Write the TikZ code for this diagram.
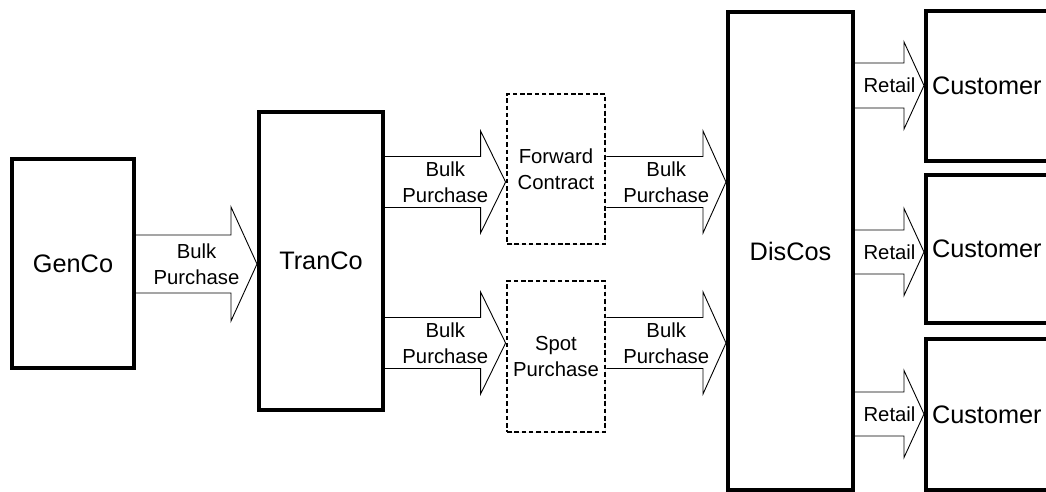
\documentclass[tikz,border=0pt]{standalone}
\usepackage{fontspec}
\setmainfont{Liberation Sans}
\usetikzlibrary{calc,shadows}
\newcommand\fatarrow[5]{%
  \draw[fatarr] let \p1=#1, \p2=#2 in
    (\x1,\y1+#3pt) -- (\x2-#5pt,\y1+#3pt) -- (\x2-#5pt,\y1+#4pt) -- (\x2,\y1)
    -- (\x2-#5pt,\y1-#4pt) -- (\x2-#5pt,\y1-#3pt) -- (\x1,\y1-#3pt);}
\begin{document}
\begin{tikzpicture}[x=1pt,y=-1pt,
  bigfont/.style={font=\fontsize{25.3}{28}\selectfont},
  smallfont/.style={font=\fontsize{20.3}{26}\selectfont},
  solidbox/.style={draw, line width=4pt, fill=white, inner sep=0pt, bigfont,
    drop shadow={shadow xshift=1.5pt, shadow yshift=-1.5pt, opacity=0.25}},
  dashbox/.style={draw, line width=2.8pt, dash pattern=on 4.5pt off 2.8pt, fill=white, inner sep=0pt,
    smallfont, align=center,
    drop shadow={shadow xshift=1.2pt, shadow yshift=-1.2pt, opacity=0.15}},
  fatarr/.style={draw, line width=0.9pt, fill=white, line join=miter},
  lab/.style={smallfont, align=center, inner sep=0pt},
  custbox/.style={solidbox, minimum width=144pt, text width=132pt, inner xsep=6pt, align=left}
]
\useasboundingbox (0,0) rectangle (1046,492);
\clip (0,0) rectangle (1046,492);
\fill[white] (0,0) rectangle (1046,492);

% arrow levels
\coordinate (yG) at (0,264);
\coordinate (yF) at (0,182);
\coordinate (yS) at (0,343);
\coordinate (yC1) at (0,85.5);
\coordinate (yC2) at (0,252);
\coordinate (yC3) at (0,414);

% main boxes
\node[solidbox, minimum width=122pt, minimum height=209pt] (genco) at (73,263.5) {GenCo};
\node[solidbox, minimum width=124pt, minimum height=298pt] (tranco) at (321,261) {TranCo};
\node[solidbox, minimum width=125pt, minimum height=478pt] (discos) at (790.5,251) {DisCos};
\node[dashbox, minimum width=98pt, minimum height=150pt] (fwd) at (556,169) {Forward\\Contract};
\node[dashbox, minimum width=98pt, minimum height=151pt] (spot) at (556,356.5) {Spot\\Purchase};
\node[custbox, minimum height=150pt] (c1) at (998,86) {Customer};
\node[custbox, minimum height=148pt] (c2) at (998,249) {Customer};
\node[custbox, minimum height=151pt] (c3) at (998,414.5) {Customer};

% block arrows
\fatarrow{(genco.east |- yG)}{(tranco.west |- yG)}{29}{57}{26}
\fatarrow{(tranco.east |- yF)}{(fwd.west |- yF)}{25.5}{51}{25}
\fatarrow{(fwd.east |- yF)}{(discos.west |- yF)}{25.5}{51}{23}
\fatarrow{(tranco.east |- yS)}{(spot.west |- yS)}{25.5}{51}{25}
\fatarrow{(spot.east |- yS)}{(discos.west |- yS)}{25.5}{51}{23}
\fatarrow{(discos.east |- yC1)}{(c1.west |- yC1)}{22.5}{43.5}{20}
\fatarrow{(discos.east |- yC2)}{(c2.west |- yC2)}{22}{43.5}{20}
\fatarrow{(discos.east |- yC3)}{(c3.west |- yC3)}{22}{43.5}{20}

% arrow labels
\node[lab] (l1) at ($(genco.east |- yG)!0.5!(tranco.west |- yG)$) {Bulk\\Purchase};
\node[lab] (l2) at ($(tranco.east |- yF)!0.5!(fwd.west |- yF)$) {Bulk\\Purchase};
\node[lab] (l3) at ($(fwd.east |- yF)!0.5!(discos.west |- yF)$) {Bulk\\Purchase};
\node[lab] (l4) at ($(tranco.east |- yS)!0.5!(spot.west |- yS)$) {Bulk\\Purchase};
\node[lab] (l5) at ($(spot.east |- yS)!0.5!(discos.west |- yS)$) {Bulk\\Purchase};
\node[lab] (r1) at ($(discos.east |- yC1)!0.5!(c1.west |- yC1)$) {Retail};
\node[lab] (r2) at ($(discos.east |- yC2)!0.5!(c2.west |- yC2)$) {Retail};
\node[lab] (r3) at ($(discos.east |- yC3)!0.5!(c3.west |- yC3)$) {Retail};
\end{tikzpicture}
\end{document}
